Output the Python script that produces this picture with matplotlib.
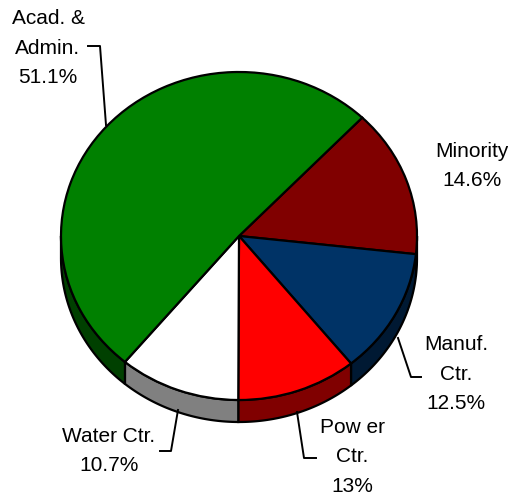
import numpy as np
import matplotlib
matplotlib.use("Agg")
import matplotlib.pyplot as plt

plt.rcParams["font.family"] = ["Liberation Sans", "DejaVu Sans"]

# ==========================
# DATA
# ==========================

sizes = [14.6, 12.4, 10.9, 11.0, 51.1]
top_colors = ["#800000", "#003366", "#FF0000", "#FFFFFF", "#008000"]
rim_colors = ["#400000", "#001933", "#800000", "#808080", "#004000"]
labels = ["Minority\n14.6%", "Manuf.\nCtr.\n12.5%", "Pow er\nCtr.\n13%",
          "Water Ctr.\n10.7%", "Acad. &\nAdmin.\n51.1%"]

W, H = 508, 500
CX, CY, RX, RY = 239, 236, 178, 164
DEPTH = 22 / RY
START = 46.2

# label centres and leader lines in pixels
label_pos = [(472, 166), (456, 374), (352, 457), (109, 451), (48, 48)]
leaders = [
    ([88, 100, 106], [46, 46, 125]),
    ([398, 411, 421], [338, 377, 377]),
    ([297, 304, 316], [412, 458, 458]),
    ([178, 171, 160], [410, 451, 451]),
]

# ==========================
# PLOT
# ==========================

fig = plt.figure(figsize=(W / 100, H / 100), dpi=100)
ax = fig.add_axes([0, 0, 1, 1])

ax.pie(
    sizes,
    colors=top_colors,
    startangle=START,
    counterclock=False,
    wedgeprops=dict(edgecolor="black", linewidth=1.6, zorder=3),
)

# rim of the 3d pie, only the front half shows
angle = START
for size, color in zip(sizes, rim_colors):
    a2 = angle - size * 3.6
    lo, hi = max(a2, -180), min(angle, 0)
    if hi > lo:
        t = np.radians(np.linspace(lo, hi, 60))
        xs = np.concatenate([np.cos(t), np.cos(t[::-1])])
        ys = np.concatenate([np.sin(t), np.sin(t[::-1]) - DEPTH])
        ax.fill(xs, ys, facecolor=color, edgecolor="black", linewidth=1.6, zorder=2)
    angle = a2

ax.set_aspect("auto")
ax.set_xlim(-CX / RX, (W - CX) / RX)
ax.set_ylim((CY - H) / RY, CY / RY)
ax.axis("off")

for text, (px, py) in zip(labels, label_pos):
    fig.text(px / W, 1 - py / H, text, ha="center", va="center",
             fontsize=15, linespacing=1.7, color="black")

for xs, ys in leaders:
    fig.add_artist(plt.Line2D([x / W for x in xs], [1 - y / H for y in ys],
                              color="black", linewidth=1.4))

plt.savefig("out.png", dpi=100)
